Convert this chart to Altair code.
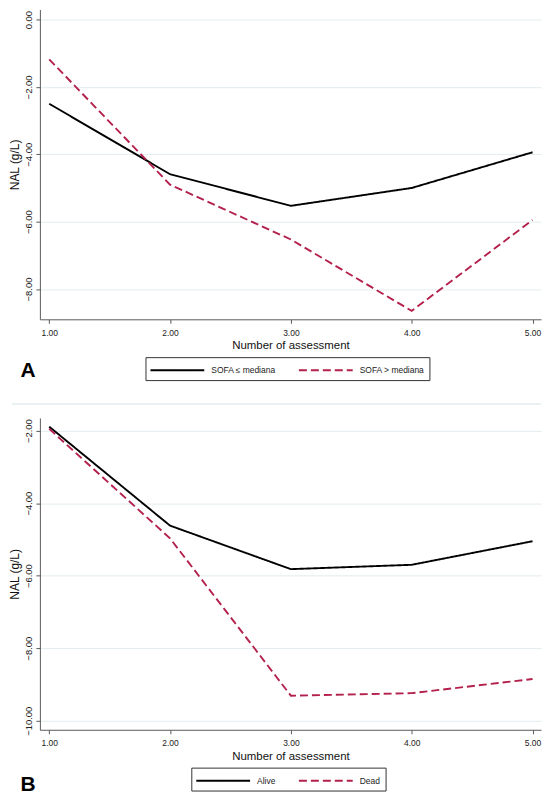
import altair as alt
import pandas as pd

# ---- data ----
assessment = [1, 2, 3, 4, 5]
sofa_low = [-2.50, -4.59, -5.53, -5.00, -3.94]
sofa_high = [-1.18, -4.90, -6.53, -8.65, -5.95]
alive = [-1.89, -4.62, -5.82, -5.70, -5.05]
dead = [-1.95, -4.97, -9.31, -9.24, -8.85]

x_ticks = [1, 2, 3, 4, 5]
a_ticks = [0, -2, -4, -6, -8]
b_ticks = [-2, -4, -6, -8, -10]
a_groups = ["SOFA \u2264 mediana", "SOFA > mediana"]
b_groups = ["Alive", "Dead"]

df_a = pd.DataFrame({
    "assessment": assessment * 2,
    "nal": sofa_low + sofa_high,
    "grp": [a_groups[0]] * 5 + [a_groups[1]] * 5,
})
df_b = pd.DataFrame({
    "assessment": assessment * 2,
    "nal": alive + dead,
    "grp": [b_groups[0]] * 5 + [b_groups[1]] * 5,
})
df_sep = pd.DataFrame({"sep": [0]})

FONT = "Liberation Sans"
RED = "#b3204b"
GRID = "#e3ecef"


def panel(df, groups, ydom, yticks, height, legx, legy, colpad):
    x = alt.X(
        "assessment:Q",
        scale=alt.Scale(domain=[0.923, 5.07], nice=False, zero=False),
        axis=alt.Axis(values=x_ticks, format=".2f", title="Number of assessment",
                      grid=False),
    )
    y = alt.Y(
        "nal:Q",
        scale=alt.Scale(domain=ydom, nice=False, zero=False),
        axis=alt.Axis(values=yticks, format=".2f", title="NAL (g/L)",
                      labelAngle=270, labelAlign="center", labelBaseline="bottom",
                      grid=True),
    )
    legend = alt.Legend(
        title=None, orient="none", legendX=legx, legendY=legy,
        direction="horizontal", symbolType="M-4,0L4,0", symbolSize=182.25,
        symbolStrokeWidth=2, symbolOffset=19, labelOffset=26,
        strokeColor="#333333", fillColor="white",
        padding=5, columnPadding=colpad, labelFontSize=8.5, labelFont=FONT,
        labelColor="#222222",
    )
    color = alt.Color("grp:N", scale=alt.Scale(domain=groups, range=["#000000", RED]),
                      legend=legend, title=None)
    dash = alt.StrokeDash("grp:N", scale=alt.Scale(domain=groups, range=[[1, 0], [8, 4]]),
                          legend=legend, title=None)
    return (
        alt.Chart(df)
        .mark_line(strokeWidth=1.9)
        .encode(x=x, y=y, color=color, strokeDash=dash)
        .properties(width=503, height=height)
    )


def letter_title(letter, dy):
    return alt.TitleParams(letter, orient="bottom", anchor="start",
                           fontSize=21, fontWeight="bold", font=FONT,
                           color="#000000", dx=12, dy=dy, offset=0)


a = panel(df_a, a_groups, [-8.9, 0.3], a_ticks, 311, 106, 349, 19).properties(
    title=letter_title("A", -21))

b_lines = panel(df_b, b_groups, [-10.25, -1.65], b_ticks, 313, 152, 351, 19)
separator = alt.Chart(df_sep).mark_rule(color=GRID, strokeWidth=1.5).encode(
    y=alt.value(-14), x=alt.value(-28), x2=alt.value(503))
b = alt.layer(separator, b_lines).properties(
    width=503, height=313, title=letter_title("B", -17))

chart = (
    alt.vconcat(a, b, spacing=22)
    .resolve_scale(color="independent", strokeDash="independent")
    .resolve_legend(color="independent", strokeDash="independent")
    .properties(padding=0, background="white")
    .configure_view(stroke=None)
    .configure_axis(
        labelFont=FONT, titleFont=FONT, titleFontWeight="normal",
        labelColor="#222222", titleColor="#111111",
        domainColor="#5a5a5a", tickColor="#5a5a5a", tickSize=4,
        gridColor=GRID, gridWidth=1,
    )
    .configure_axisY(titlePadding=2.5, labelPadding=2, labelFontSize=9.5, titleFontSize=12)
    .configure_axisX(titlePadding=3, labelPadding=5, labelFontSize=8.5, titleFontSize=11.5)
)

chart.save("out.html", embed_options={"renderer": "svg", "actions": False})
